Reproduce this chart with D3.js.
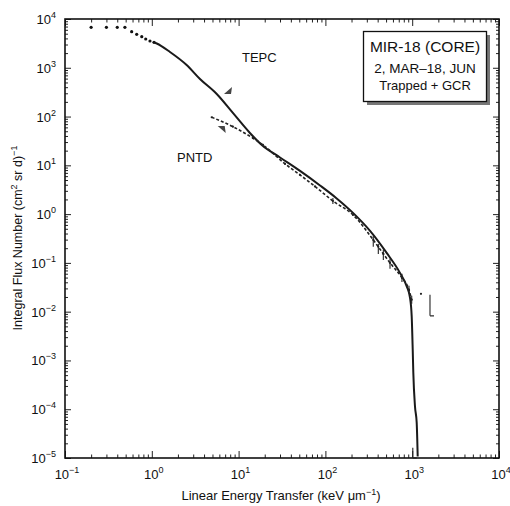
<!DOCTYPE html>
<html>
<head>
<meta charset="utf-8">
<script src="https://cdn.jsdelivr.net/npm/d3@7"></script>
<style>
body { margin: 0; background: #fff; }
text { font-family: "Liberation Sans", Arial, Helvetica, sans-serif; fill: #111; }
</style>
</head>
<body>
<div id="chart"></div>
<script>
// TEPC spectrum: dots below ~1 keV/um, solid line afterwards
var tepcLet  = [0.2, 0.3, 0.4, 0.49, 0.586, 0.67, 0.766, 0.851, 0.953, 1.06, 1.14, 1.62, 2.52, 3.59, 5.6, 8.69, 13.5, 18.5, 30, 51, 86.7, 135, 208, 327, 508, 723, 865, 944, 987, 1014, 1030, 1077, 1127, 1157];
var tepcFlux = [6760, 6760, 6760, 6760, 5490, 4860, 4340, 3890, 3540, 3330, 3150, 2109, 1141, 589, 290, 116, 46.1, 26.2, 14.5, 7.68, 3.87, 2.10, 1.06, 0.453, 0.160, 0.0624, 0.033, 0.0192, 0.00794, 0.00165, 5.57e-4, 1.14e-4, 5.26e-5, 1.07e-5];
var tepcDotCount = 10;

// PNTD spectrum (dashed), some points with error bars
var pntdLet  = [4.9, 8.6, 14.7, 19.1, 34.3, 51, 75.9, 122, 208, 356, 407, 465, 555, 762, 918, 987, 1262];
var pntdFlux = [96.8, 62, 35.9, 26.2, 10.7, 6.36, 3.70, 1.86, 0.964, 0.296, 0.213, 0.153, 0.1, 0.0493, 0.028, 0.0175, 0.0232];
var pntdLo   = [null, null, null, null, null, null, null, 1.62, null, 0.213, 0.153, 0.115, 0.0754, 0.0408, 0.0232, 0.0145, null];
var pntdHi   = [null, null, null, null, null, null, null, 2.15, null, 0.357, 0.245, 0.185, 0.121, 0.0596, 0.0338, 0.0211, null];
// lone error bars
var barLet = [1603, 1016];
var barLo  = [0.0082, 1e-5];
var barHi  = [0.0221, 1.62e-5];

var xExp = [-1, 0, 1, 2, 3, 4];
var yExp = [-5, -4, -3, -2, -1, 0, 1, 2, 3, 4];

(function () {
    var svg = d3.select("#chart").append("svg")
        .attr("width", 510)
        .attr("height", 506);

    var pl = 65, pr = 499, pt = 19, pb = 458;
    var x = d3.scaleLog().domain([0.1, 1e4]).range([pl, pr]);
    var y = d3.scaleLog().domain([1e-5, 1e4]).range([pb, pt]);

    function isMajor(v) {
        var l = Math.log10(v);
        return Math.abs(l - Math.round(l)) < 1e-9;
    }
    var xMajor = x.ticks().filter(isMajor), xMinor = x.ticks().filter(function (v) { return !isMajor(v); });
    var yMajor = y.ticks().filter(isMajor), yMinor = y.ticks().filter(function (v) { return !isMajor(v); });

    function axis(fn, scale, tr, vals, size) {
        svg.append("g")
            .attr("transform", tr)
            .call(fn(scale).tickValues(vals).tickSize(size).tickFormat(""))
            .call(function (g) { g.select(".domain").remove(); })
            .selectAll("line").attr("stroke", "#222").attr("stroke-width", 1);
    }
    axis(d3.axisBottom, x, "translate(0," + pb + ")", xMajor, -7);
    axis(d3.axisBottom, x, "translate(0," + pb + ")", xMinor, -3.5);
    axis(d3.axisTop, x, "translate(0," + pt + ")", xMajor, -7);
    axis(d3.axisTop, x, "translate(0," + pt + ")", xMinor, -3.5);
    axis(d3.axisLeft, y, "translate(" + pl + ",0)", yMajor, -6);
    axis(d3.axisLeft, y, "translate(" + pl + ",0)", yMinor, -3);
    axis(d3.axisRight, y, "translate(" + pr + ",0)", yMajor, -6);
    axis(d3.axisRight, y, "translate(" + pr + ",0)", yMinor, -3);

    svg.append("rect")
        .attr("x", pl).attr("y", pt)
        .attr("width", pr - pl).attr("height", pb - pt)
        .attr("fill", "none").attr("stroke", "#111").attr("stroke-width", 1.6);

    // tick labels 10^n
    function powLabel(t, e) {
        t.append("tspan").text("10");
        t.append("tspan").attr("dy", -6).attr("font-size", 9)
            .text(e < 0 ? "\u2212" + (-e) : "" + e);
    }
    xExp.forEach(function (e) {
        var t = svg.append("text")
            .attr("x", x(Math.pow(10, e)) + 2)
            .attr("y", 479)
            .attr("text-anchor", "middle")
            .attr("font-size", 13);
        powLabel(t, e);
    });
    yExp.forEach(function (e) {
        var t = svg.append("text")
            .attr("x", 56)
            .attr("y", y(Math.pow(10, e)) + 5)
            .attr("text-anchor", "end")
            .attr("font-size", 13);
        powLabel(t, e);
    });

    // axis titles
    var xt = svg.append("text")
        .attr("x", 281).attr("y", 500)
        .attr("text-anchor", "middle")
        .attr("font-size", 13);
    xt.append("tspan").text("Linear Energy Transfer (keV \u03bcm");
    xt.append("tspan").attr("dy", -5).attr("font-size", 9).text("\u22121");
    xt.append("tspan").attr("dy", 5).text(")");

    var yt = svg.append("text")
        .attr("transform", "translate(22,238) rotate(-90)")
        .attr("text-anchor", "middle")
        .attr("font-size", 12.5);
    yt.append("tspan").text("Integral Flux Number (cm");
    yt.append("tspan").attr("dy", -5).attr("font-size", 9).text("2");
    yt.append("tspan").attr("dy", 5).text(" sr d)");
    yt.append("tspan").attr("dy", -5).attr("font-size", 9).text("\u22121");

    // TEPC
    var tepc = tepcLet.map(function (d, i) { return { x: d, y: tepcFlux[i] }; });
    var line = d3.line()
        .x(function (d) { return x(d.x); })
        .y(function (d) { return y(d.y); })
        .curve(d3.curveMonotoneX);

    svg.append("g").selectAll("circle")
        .data(tepc.slice(0, tepcDotCount))
        .enter()
        .append("circle")
        .attr("cx", function (d) { return x(d.x); })
        .attr("cy", function (d) { return y(d.y); })
        .attr("r", 1.6)
        .attr("fill", "#111");

    svg.append("path")
        .datum(tepc.slice(tepcDotCount - 1))
        .attr("d", line)
        .attr("fill", "none")
        .attr("stroke", "#1a1a1a")
        .attr("stroke-width", 2);

    // PNTD
    var pntd = pntdLet.map(function (d, i) {
        return { x: d, y: pntdFlux[i], lo: pntdLo[i], hi: pntdHi[i] };
    });
    svg.append("path")
        .datum(pntd.filter(function (d) { return d.x <= 1000; }))
        .attr("d", line)
        .attr("fill", "none")
        .attr("stroke", "#222")
        .attr("stroke-width", 1.6)
        .attr("stroke-dasharray", "3,2");

    svg.append("g").selectAll("circle")
        .data(pntd)
        .enter()
        .append("circle")
        .attr("cx", function (d) { return x(d.x); })
        .attr("cy", function (d) { return y(d.y); })
        .attr("r", 1.1)
        .attr("fill", "#222");

    var bars = pntd.filter(function (d) { return d.lo != null; })
        .concat(barLet.map(function (d, i) { return { x: d, lo: barLo[i], hi: barHi[i], cap: true }; }));

    svg.append("g").selectAll("line")
        .data(bars)
        .enter()
        .append("line")
        .attr("x1", function (d) { return x(d.x); })
        .attr("x2", function (d) { return x(d.x); })
        .attr("y1", function (d) { return y(d.lo); })
        .attr("y2", function (d) { return y(d.hi); })
        .attr("stroke", "#222")
        .attr("stroke-width", 1.1);

    svg.append("g").selectAll("path")
        .data(bars.filter(function (d) { return d.cap; }))
        .enter()
        .append("path")
        .attr("d", function (d) {
            return "M" + x(d.x) + "," + y(d.lo) + "h4";
        })
        .attr("stroke", "#222")
        .attr("stroke-width", 1.2);

    // arrow markers (darts pointing at the curves)
    svg.append("path")
        .attr("d", "M-4,3L4,-4L3,3Z")
        .attr("transform", "translate(" + x(7.55) + "," + y(335) + ")")
        .attr("fill", "#444");
    svg.append("path")
        .attr("d", "M-4,-3L3,-3L4,4Z")
        .attr("transform", "translate(" + x(6.39) + "," + y(55.7) + ")")
        .attr("fill", "#444");

    svg.append("text").attr("x", 242).attr("y", 62).attr("font-size", 13).text("TEPC");
    svg.append("text").attr("x", 177).attr("y", 162).attr("font-size", 13).text("PNTD");

    // legend box with shadow
    svg.append("rect")
        .attr("x", 367).attr("y", 35).attr("width", 123).attr("height", 70)
        .attr("fill", "#777");
    svg.append("rect")
        .attr("x", 363.5).attr("y", 31.5).attr("width", 123).attr("height", 70)
        .attr("fill", "#fff").attr("stroke", "#111").attr("stroke-width", 1.3);
    var legendLines = ["MIR-18 (CORE)", "2, MAR\u201318, JUN", "Trapped + GCR"];
    var legendY = [52, 72.5, 89.5];
    var legendSize = [15.5, 13.5, 13];
    legendLines.forEach(function (s, i) {
        svg.append("text")
            .attr("x", 425).attr("y", legendY[i])
            .attr("text-anchor", "middle")
            .attr("font-size", legendSize[i])
            .text(s);
    });
})();
</script>
</body>
</html>
